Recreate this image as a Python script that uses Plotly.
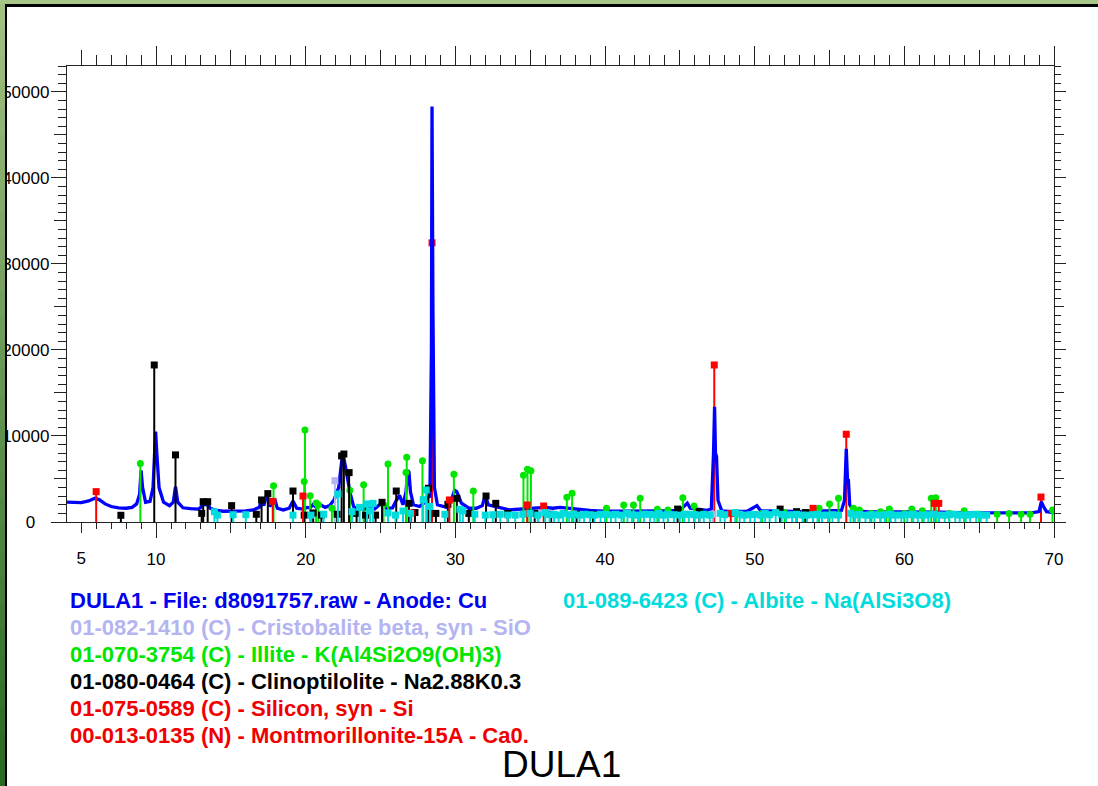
import plotly.graph_objects as go

# ---------------- DATA ----------------
two_theta = [4.05, 4.5, 5.0, 5.5, 5.9, 6.2, 6.6, 7.0, 7.5, 8.0, 8.4, 8.7, 8.9, 9.0, 9.1, 9.3, 9.6, 9.8, 9.9, 9.97,
             10.05, 10.2, 10.5, 10.9, 11.15, 11.3, 11.45, 11.8, 12.3, 12.8, 13.0, 13.15, 13.3, 13.45, 13.6, 14.0,
             14.5, 15.0, 15.5, 16.0, 16.5, 16.9, 17.05, 17.2, 17.42, 17.6, 17.93, 18.1, 18.5, 18.9, 19.15, 19.4,
             19.8, 20.1, 20.3, 20.5, 20.7, 21.0, 21.3, 21.6, 21.9, 22.2, 22.4, 22.5, 22.65, 22.8, 22.95, 23.2,
             23.5, 23.9, 24.3, 24.6, 25.15, 25.4, 25.8, 26.05, 26.27, 26.5, 26.7, 26.82, 26.9, 27.0, 27.2, 27.6,
             27.9, 28.1, 28.3, 28.4, 28.44, 28.5, 28.6, 28.8, 29.05, 29.4, 29.7, 29.95, 30.1, 30.4, 30.9, 31.4,
             31.8, 32.0, 32.2, 32.7, 33.2, 33.6, 34.0, 34.5, 35.0, 35.5, 36.0, 36.5, 37.0, 37.5, 38.0, 38.5,
             39.0, 39.5, 40.0, 41.0, 42.0, 43.0, 44.0, 45.0, 45.5, 45.7, 46.2, 46.8, 47.1, 47.25, 47.32, 47.38,
             47.45, 47.55, 47.8, 48.5, 49.5, 50.15, 50.4, 51.0, 52.0, 53.0, 54.0, 55.0, 55.8, 56.0, 56.12, 56.2,
             56.26, 56.35, 56.6, 57.5, 58.5, 59.5, 60.5, 61.5, 62.5, 63.5, 64.5, 65.5, 66.5, 67.5, 68.5, 69.0,
             69.15, 69.3, 69.5, 70.0]
intensity = [2300, 2300, 2250, 2450, 2750, 2600, 2100, 1800, 1650, 1600, 1700, 2100, 3200, 6000, 4000, 2300, 2400,
             4000, 8000, 10500, 8000, 4000, 2300, 1900, 2300, 4100, 2300, 1650, 1550, 1500, 1700, 2500, 1900, 2300,
             1600, 1350, 1250, 1250, 1300, 1300, 1400, 1700, 2650, 1900, 3300, 1800, 2700, 1600, 1400, 1600, 2450,
             1600, 1500, 1700, 1650, 2050, 1700, 2000, 1700, 1900, 2600, 4000, 7000, 7800, 6500, 4900, 3500, 1800,
             1450, 1500, 1600, 1500, 2350, 1600, 1650, 2500, 3100, 2000, 3500, 6000, 5800, 3500, 2000, 1800,
             2200, 2800, 3000, 20000, 48300, 25000, 4000, 2000, 1900, 1700, 2400, 3700, 3500, 2200, 1600, 1600,
             1900, 3100, 2000, 1800, 1600, 1400, 1450, 1500, 1600, 1650, 1700, 1600, 1700, 1600, 1500, 1400,
             1350, 1300, 1250, 1250, 1250, 1250, 1300, 1350, 2200, 1600, 1450, 1350, 1500, 8000, 13400, 8000,
             7600, 2500, 1300, 1200, 1250, 1900, 1300, 1250, 1250, 1200, 1250, 1250, 1350, 2500, 8500, 5000,
             4900, 2000, 1300, 1200, 1200, 1200, 1150, 1150, 1150, 1100, 1100, 1100, 1050, 1050, 1050, 1200,
             2350, 1800, 1200, 1100]

silicon_pos = [28.44, 47.30, 56.12, 69.13]
silicon_int = [32450, 18250, 10200, 2900]

cristobalite_pos = [21.95, 35.6, 42.6, 47.2, 56.9]
cristobalite_int = [4800, 1000, 900, 900, 800]

illite_pos = [8.95, 17.85, 19.9, 19.95, 20.3, 20.7, 20.85, 21.75, 22.95, 23.87, 25.2, 25.5, 26.7, 26.75, 27.8,
              29.9, 31.2, 34.55, 34.82, 35.05, 37.45, 37.8, 40.1, 41.25, 41.9, 42.35, 43.5, 44.2, 45.2, 45.95,
              48.8, 50.5, 52.0, 53.3, 54.3, 55.0, 55.6, 56.6, 57.0, 57.8, 58.4, 58.8, 59.0, 60.0, 60.5, 61.2,
              61.8, 62.1, 63.0, 64.0, 65.0, 66.2, 67.0, 67.8, 68.4, 69.9]
illite_int = [6800, 4200, 4700, 10700, 3060, 2200, 2000, 1600, 3700, 4340, 2000, 6750, 5740, 7520, 7130,
              5550, 3600, 5430, 6130, 5970, 2870, 3340, 1590, 1980, 1980, 2750, 1470, 1400, 2830, 1860,
              1000, 1000, 1100, 1000, 1590, 2090, 2750, 1590, 1400, 1000, 1200, 1000, 1500, 1000, 1500, 1300,
              2750, 2830, 1000, 1300, 900, 900, 1000, 900, 900, 1400]

clino_pos = [7.65, 9.88, 11.3, 13.05, 13.15, 13.45, 15.05, 16.7, 17.05, 17.47, 19.15, 19.9, 20.5, 21.05, 22.1,
             22.4, 22.55, 22.9, 23.4, 24.0, 24.67, 25.1, 26.05, 26.9, 27.3, 28.2, 28.7, 29.5, 30.1, 30.9, 32.05,
             32.7, 33.5, 35.3, 36.4, 38.1, 39.2, 44.85, 46.3, 51.7, 52.8, 53.4]
clino_int = [780, 18250, 7800, 1000, 2360, 2360, 1900, 900, 2560, 3300, 3600, 800, 1050, 800, 900,
             7680, 7900, 5740, 1000, 800, 800, 2290, 3600, 2170, 1100, 3920, 1000, 2050, 2750, 1000, 3020,
             2170, 1000, 1000, 900, 900, 900, 1500, 1200, 1500, 1200, 1100]

montmor_pos = [6.0, 17.8, 19.82, 27.05, 29.6, 34.8, 35.9, 48.4, 53.9, 62.0, 62.3]
montmor_int = [3530, 2400, 3020, 1050, 2560, 1980, 1860, 1000, 1590, 2170, 2170]

albite_pos = [13.9, 14.1, 15.15, 16.0, 19.15, 20.35, 21.2, 22.15, 23.1, 23.6, 24.1, 24.3, 24.5, 25.5, 26.0,
              26.5, 27.0, 27.85, 28.05, 28.3, 29.3, 30.3, 30.5, 31.3, 32.0, 32.5, 33.0, 33.5, 34.0, 34.5, 35.0,
              35.5, 36.0, 36.3, 36.6, 36.9, 37.2, 37.6, 37.9, 38.3, 38.6, 39.0, 39.3, 39.7, 40.0, 40.4, 40.7,
              41.1, 41.5, 41.8, 42.2, 42.6, 43.0, 43.3, 43.6, 43.9, 44.2, 44.6, 45.0, 45.3, 45.6, 46.0, 46.3,
              46.6, 47.0, 47.7, 48.0, 48.7, 49.0, 49.3, 49.7, 50.0, 50.4, 50.7, 51.0, 51.4, 51.8, 52.1, 52.5,
              52.8, 53.2, 53.5, 53.9, 54.2, 54.5, 54.9, 55.2, 55.6, 56.4, 56.7, 57.0, 57.4, 57.7, 58.0, 58.4,
              58.7, 59.1, 59.4, 59.8, 60.2, 60.6, 60.9, 61.3, 61.6, 62.0, 62.3, 62.7, 63.0, 63.4, 63.7, 64.1,
              64.4, 64.8, 65.1, 65.5]
albite_int = [1200, 800, 850, 850, 800, 800, 900, 3250, 1200, 1700, 2100, 1300, 2170, 1050, 800,
              1280, 1000, 2600, 3720, 1800, 900, 1470, 1300, 900, 800, 850, 900, 800, 800, 900, 1000,
              800, 1100, 850, 900, 800, 1000, 850, 900, 800, 900, 850, 800, 900, 900, 850, 900,
              800, 1000, 850, 800, 900, 900, 850, 1000, 800, 900, 850, 800, 900, 900, 850, 800,
              900, 800, 1000, 850, 1100, 900, 800, 850, 900, 800, 1000, 850, 1100, 900, 800, 850,
              900, 800, 800, 850, 900, 800, 800, 850, 800, 1000, 850, 900, 800, 800, 850, 800,
              850, 900, 800, 800, 850, 900, 800, 800, 850, 900, 800, 800, 850, 900, 800, 800,
              850, 900, 800, 800]

x_range = [4.05, 70]
y_range = [0, 53000]

legend_lines = [
    ("DULA1 - File: d8091757.raw - Anode: Cu", "#0000F0"),
    ("01-082-1410 (C) - Cristobalite beta, syn - SiO", "#B4B4F0"),
    ("01-070-3754 (C) - Illite - K(Al4Si2O9(OH)3)", "#00E600"),
    ("01-080-0464 (C) - Clinoptilolite - Na2.88K0.3", "#000000"),
    ("01-075-0589 (C) - Silicon, syn - Si", "#F00000"),
    ("00-013-0135 (N) - Montmorillonite-15A - Ca0.", "#F00000"),
]
legend_right = ("01-089-6423 (C) - Albite - Na(AlSi3O8)", "#00DCDC")
title_text = "DULA1"

# ---------------- LAYOUT GEOMETRY ----------------
W, H = 1098, 786
L, R, T, B = 67, 44, 66, 264
PW, PH = W - L - R, H - T - B


def px(xp):
    return (xp - L) / PW


def py(yp):
    return (H - B - yp) / PH


BLUE = "#0000FF"
LAV = "#B4B4F0"
GREEN = "#00E600"
BLACK = "#000000"
RED = "#FF0000"
CYAN = "#00DCDC"


def sticks(pos, hts, color, symbol):
    return go.Scatter(
        x=pos, y=hts, mode="markers",
        marker=dict(symbol=symbol, size=7, color=color, line=dict(width=0)),
        error_y=dict(type="data", symmetric=False, array=[0] * len(hts), arrayminus=hts,
                     width=0, thickness=2, color=color),
        showlegend=False, hoverinfo="skip")


fig = go.Figure()
fig.add_trace(sticks(silicon_pos, silicon_int, RED, "square"))
fig.add_trace(go.Scatter(x=two_theta, y=intensity, mode="lines",
                         line=dict(color=BLUE, width=3.3), showlegend=False, hoverinfo="skip"))
fig.add_trace(sticks(cristobalite_pos, cristobalite_int, LAV, "square"))
fig.add_trace(sticks(illite_pos, illite_int, GREEN, "circle"))
fig.add_trace(sticks(clino_pos, clino_int, BLACK, "square"))
fig.add_trace(sticks(montmor_pos, montmor_int, RED, "square"))
fig.add_trace(sticks(albite_pos, albite_int, CYAN, "square"))
# empty traces to instantiate the decorative tick axes
for xa, ya in [("x2", "y"), ("x3", "y"), ("x4", "y"), ("x", "y2"), ("x", "y3"), ("x", "y4")]:
    fig.add_trace(go.Scatter(x=[None], y=[None], xaxis=xa, yaxis=ya, showlegend=False, hoverinfo="skip"))

TC = "#222222"
TF = dict(family="Liberation Sans, Arial, sans-serif", size=17, color="#000000")
common = dict(showgrid=False, zeroline=False, tickcolor=TC, tickwidth=1.3, automargin=False)

fig.update_layout(
    width=W, height=H, margin=dict(l=L, r=R, t=T, b=B, autoexpand=False),
    paper_bgcolor="white", plot_bgcolor="white",
    xaxis=dict(range=x_range, tick0=0, dtick=10, ticks="outside", ticklen=15, showline=True,
               linecolor=TC, linewidth=1.3, tickfont=TF, ticklabelstandoff=6,
               minor=dict(dtick=1, tick0=0, ticks="outside", ticklen=6, tickcolor=TC, tickwidth=1.3),
               **common),
    xaxis2=dict(range=x_range, overlaying="x", anchor="y", side="bottom", tickmode="array",
                tickvals=[5, 15, 25, 35, 45, 55, 65], ticktext=["5", "", "", "", "", "", ""],
                ticks="outside", ticklen=10, showline=False, tickfont=TF, ticklabelstandoff=11, **common),
    xaxis3=dict(range=x_range, overlaying="x", anchor="y", side="top", tick0=0, dtick=10,
                ticks="outside", ticklen=19, showline=True, linecolor=TC, linewidth=1.3,
                showticklabels=False,
                minor=dict(dtick=1, tick0=0, ticks="outside", ticklen=10, tickcolor=TC, tickwidth=1.3),
                **common),
    xaxis4=dict(range=x_range, overlaying="x", anchor="y", side="top", tickmode="array",
                tickvals=[5, 15, 25, 35, 45, 55, 65], ticks="outside", ticklen=15,
                showticklabels=False, showline=False, **common),
    yaxis=dict(range=y_range, tick0=0, dtick=10000, ticks="outside", ticklen=15, showline=True,
               linecolor=TC, linewidth=1.3, tickfont=TF, tickformat="d", ticklabelstandoff=-2,
               labelalias={"0": "0\u00a0\u00a0\u00a0"},
               minor=dict(dtick=1000, tick0=0, ticks="outside", ticklen=8, tickcolor=TC, tickwidth=1.3),
               **common),
    yaxis2=dict(range=y_range, overlaying="y", anchor="x", side="left", tickmode="array",
                tickvals=[5000, 15000, 25000, 35000, 45000], ticks="outside", ticklen=12,
                showticklabels=False, showline=False, **common),
    yaxis3=dict(range=y_range, overlaying="y", anchor="x", side="right", tick0=0, dtick=10000,
                ticks="outside", ticklen=11, showline=True, linecolor=TC, linewidth=1.3,
                showticklabels=False,
                minor=dict(dtick=1000, tick0=0, ticks="outside", ticklen=6, tickcolor=TC, tickwidth=1.3),
                **common),
    yaxis4=dict(range=y_range, overlaying="y", anchor="x", side="right", tickmode="array",
                tickvals=[5000, 15000, 25000, 35000, 45000], ticks="outside", ticklen=9,
                showticklabels=False, showline=False, **common),
)

# ---------------- FRAME (green window border) ----------------
shapes = []
shapes.append(dict(type="rect", xref="paper", yref="paper", x0=px(0), x1=px(W), y0=py(0), y1=py(4),
                   fillcolor="#A9C689", line=dict(width=0), layer="above"))
nseg = 30
c0, c1 = (160, 192, 128), (40, 105, 35)
for i in range(nseg):
    t = i / (nseg - 1)
    col = "rgb(%d,%d,%d)" % tuple(round(a + (b - a) * t) for a, b in zip(c0, c1))
    y0p = 4 + (H - 4) * i / nseg
    y1p = 4 + (H - 4) * (i + 1) / nseg + 1
    shapes.append(dict(type="rect", xref="paper", yref="paper", x0=px(0), x1=px(5), y0=py(y0p), y1=py(y1p),
                       fillcolor=col, line=dict(width=0), layer="above"))
shapes.append(dict(type="rect", xref="paper", yref="paper", x0=px(5), x1=px(W), y0=py(4), y1=py(7),
                   fillcolor="#000000", line=dict(width=0), layer="above"))
shapes.append(dict(type="rect", xref="paper", yref="paper", x0=px(5), x1=px(7), y0=py(4), y1=py(H),
                   fillcolor="#000000", line=dict(width=0), layer="above"))
fig.update_layout(shapes=shapes)

# ---------------- TEXT ----------------
LF = "Liberation Sans, Arial, sans-serif"
ann = []
for i, (txt, col) in enumerate(legend_lines):
    ann.append(dict(text=txt, xref="paper", yref="paper", x=px(68), y=py(600 + 27 * i),
                    xanchor="left", yanchor="middle", showarrow=False,
                    font=dict(family=LF, size=22, color=col, weight="bold")))
ann.append(dict(text=legend_right[0], xref="paper", yref="paper", x=px(561), y=py(600),
                xanchor="left", yanchor="middle", showarrow=False,
                font=dict(family=LF, size=22, color=legend_right[1], weight="bold")))
ann.append(dict(text=title_text, xref="paper", yref="paper", x=px(561), y=py(764),
                xanchor="center", yanchor="middle", showarrow=False,
                font=dict(family=LF, size=37, color="#000000")))
fig.update_layout(annotations=ann)

fig.write_html("out.html")
